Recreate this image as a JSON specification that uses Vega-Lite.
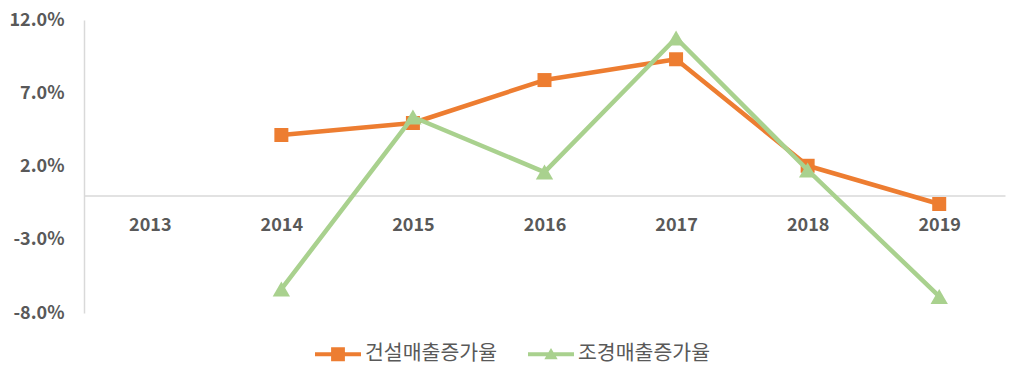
{
  "$schema": "https://vega.github.io/schema/vega-lite/v6.json",
  "autosize": {"type": "none"},
  "padding": {"left": 84, "top": 20, "right": 18, "bottom": 71},
  "width": 921,
  "height": 293,
  "background": "white",
  "config": {
    "view": {"stroke": null},
    "font": "Noto Sans CJK KR"
  },
  "data": {
    "values": [
      {"year": "2014", "series": "건설매출증가율", "value": 4.15},
      {"year": "2015", "series": "건설매출증가율", "value": 4.97},
      {"year": "2016", "series": "건설매출증가율", "value": 7.9},
      {"year": "2017", "series": "건설매출증가율", "value": 9.32},
      {"year": "2018", "series": "건설매출증가율", "value": 2.05},
      {"year": "2019", "series": "건설매출증가율", "value": -0.56},
      {"year": "2014", "series": "조경매출증가율", "value": -6.37},
      {"year": "2015", "series": "조경매출증가율", "value": 5.38},
      {"year": "2016", "series": "조경매출증가율", "value": 1.62},
      {"year": "2017", "series": "조경매출증가율", "value": 10.77},
      {"year": "2018", "series": "조경매출증가율", "value": 1.76},
      {"year": "2019", "series": "조경매출증가율", "value": -6.87}
    ]
  },
  "encoding": {
    "x": {
      "field": "year", "type": "ordinal",
      "scale": {"type": "point", "padding": 0.5, "domain": ["2013","2014","2015","2016","2017","2018","2019"]},
      "axis": {
        "title": null, "orient": "bottom", "offset": -117.5, "labelAngle": 0,
        "ticks": false, "grid": false, "domainColor": "#d9d9d9", "domainWidth": 1.5,
        "labelPadding": 21, "labelFontSize": 18, "labelFontWeight": "bold", "labelColor": "#595959"
      }
    },
    "y": {
      "field": "value", "type": "quantitative",
      "scale": {"domain": [-8, 12], "nice": false, "zero": false},
      "axis": {
        "title": null, "values": [-8, -3, 2, 7, 12], "ticks": false, "grid": false,
        "domainColor": "#d9d9d9", "domainWidth": 1.5, "labelPadding": 20,
        "labelFontSize": 18, "labelFontWeight": "bold", "labelColor": "#595959",
        "labelExpr": "(datum.value < 0 ? '-' : '') + format(abs(datum.value), '.1f') + '%'"
      }
    },
    "color": {
      "field": "series", "type": "nominal",
      "scale": {"domain": ["건설매출증가율", "조경매출증가율"], "range": ["#ED7D31", "#A9D18E"]},
      "legend": {
        "title": null, "orient": "none", "legendX": 231, "legendY": 311, "direction": "horizontal", "padding": 0,
        "labelFontSize": 20.5, "labelColor": "#595959", "symbolSize": 2116, "labelOffset": 4, "columnPadding": 30,
        "symbolType": "M-1,-0.09H1V0.09H-1Z M-0.3,-0.3H0.3V0.3H-0.3Z",
        "encode": {"symbols": {"update": {
          "shape": {"signal": "datum.value === '건설매출증가율' ? 'M-1,-0.09H1V0.09H-1Z M-0.3,-0.3H0.3V0.3H-0.3Z' : 'M-1,-0.09H1V0.09H-1Z M0,-0.27L0.29,0.22H-0.29Z'"},
          "fill": {"signal": "scale('color', datum.value)"},
          "strokeWidth": {"value": 0},
          "opacity": {"value": 1}
        }}}
      }
    }
  },
  "layer": [
    {
      "transform": [{"filter": "datum.series === '건설매출증가율'"}],
      "mark": {"type": "line", "strokeWidth": 4.5, "strokeJoin": "round"}
    },
    {
      "transform": [{"filter": "datum.series === '건설매출증가율'"}],
      "mark": {"type": "point", "filled": true, "opacity": 1, "size": 196, "shape": "square"}
    },
    {
      "transform": [{"filter": "datum.series === '조경매출증가율'"}],
      "mark": {"type": "line", "strokeWidth": 4.5, "strokeJoin": "round"}
    },
    {
      "transform": [{"filter": "datum.series === '조경매출증가율'"}],
      "mark": {"type": "point", "filled": true, "opacity": 1, "size": 300, "shape": "triangle-up"}
    }
  ]
}
